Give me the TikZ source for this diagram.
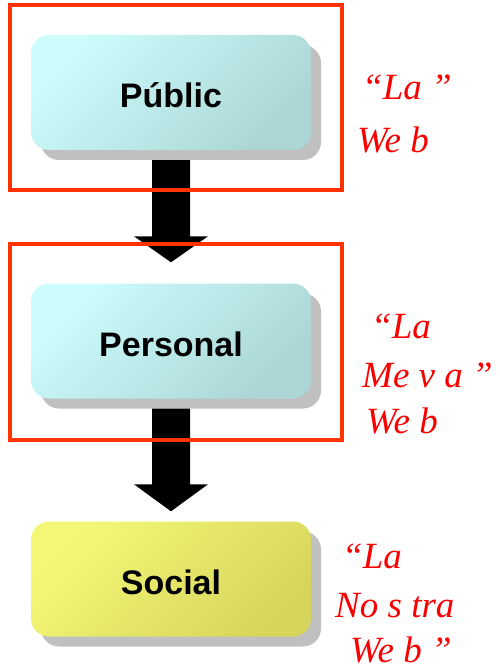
\documentclass[tikz,border=0pt]{standalone}
\usepackage{fontspec}
\setmainfont{Liberation Serif}
\newfontfamily\labelfont{Liberation Sans}
\usetikzlibrary{calc,shadows}
\definecolor{framered}{RGB}{255,51,0}
\definecolor{scriptred}{RGB}{250,0,0}
\definecolor{cyanA}{RGB}{204,252,252}
\definecolor{cyanB}{RGB}{172,214,214}
\definecolor{yelA}{RGB}{244,247,118}
\definecolor{yelB}{RGB}{214,214,92}
\definecolor{shadowgray}{RGB}{192,192,192}
\tikzset{
  stage/.style={minimum width=280pt, minimum height=115pt, rounded corners=18pt,
    inner sep=0pt, text height=30pt, text depth=0pt,
    font=\labelfont\bfseries\fontsize{34}{40}\selectfont,
    drop shadow={shadow xshift=10pt, shadow yshift=-10pt, fill=shadowgray, opacity=1}},
  cyanstage/.style={stage, top color=cyanA, bottom color=cyanB, shading angle=45},
  yellowstage/.style={stage, top color=yelA, bottom color=yelB, shading angle=45},
  frame/.style={draw=framered, line width=4.5pt},
  quote/.style={anchor=base west, inner sep=0pt, text=scriptred,
    font=\itshape\fontsize{37}{42}\selectfont},
  blockarrow/.style={fill=black}
}
\begin{document}
\begin{tikzpicture}[x=1pt,y=-1pt]
\useasboundingbox (0,0) rectangle (499,671);

% stage boxes
\node[cyanstage] (b1) at (171,92.5) {Públic};
\node[cyanstage] (b2) at (171,341) {Personal};
\node[yellowstage] (b3) at (171,579) {Social};

% block arrows
\fill[blockarrow] ($(b1.south)+(-19,10)$) -- ($(b1.south)+(19,10)$)
  -- ($(b2.north)+(19,-47)$) -- ($(b2.north)+(37,-47)$)
  -- ($(b2.north)+(0,-21)$) -- ($(b2.north)+(-37,-47)$)
  -- ($(b2.north)+(-19,-47)$) -- cycle;
\fill[blockarrow] ($(b2.south)+(-19,10)$) -- ($(b2.south)+(19,10)$)
  -- ($(b3.north)+(19,-37)$) -- ($(b3.north)+(37,-37)$)
  -- ($(b3.north)+(0,-10)$) -- ($(b3.north)+(-37,-37)$)
  -- ($(b3.north)+(-19,-37)$) -- cycle;

% red frames
\draw[frame] (10,5) rectangle (342,190);
\draw[frame] (10,244) rectangle (342,440);

% script labels
\node[quote] (q1a) at (362,100) {“La ”};
\node[quote] (q1b) at (357,153) {We b};
\node[quote] (q2a) at (371,338) {“La};
\node[quote] (q2b) at (362,387) {Me v a ”};
\node[quote] (q2c) at (366,433) {We b};
\node[quote] (q3a) at (342,568) {“La};
\node[quote] (q3b) at (335,617) {No s tra};
\node[quote] (q3c) at (350,662) {We b ”};
\end{tikzpicture}
\end{document}
